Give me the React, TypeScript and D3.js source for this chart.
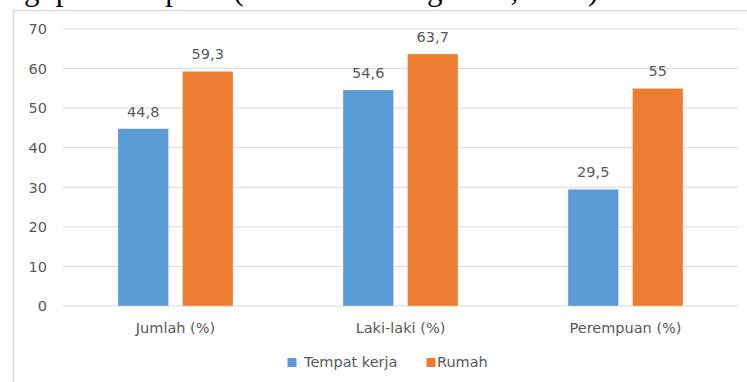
import React from "react";
import * as d3 from "d3";

const categories = ["Jumlah (%)", "Laki-laki (%)", "Perempuan (%)"];
const seriesNames = ["Tempat kerja", "Rumah"];
const tempatKerja = [44.8, 54.6, 29.5];
const rumah = [59.3, 63.7, 55];
const yTicks = [0, 10, 20, 30, 40, 50, 60, 70];
const titleFragment = "gi perokok pasif (Kemenkes dengan RI, 2013)";

const colors = ["#5B9BD5", "#ED7D31"];
const W = 747;
const H = 382;
const FONT = "'DejaVu Sans', sans-serif";
const TXT = "#595959";

export default function App() {
  const x0 = d3.scaleBand<string>().domain(categories).range([63, 738]).padding(0);
  const x1 = d3
    .scaleBand<string>()
    .domain(seriesNames)
    .range([0, x0.bandwidth()])
    .paddingInner(0.217)
    .paddingOuter(0.853);
  const y = d3.scaleLinear().domain([0, 70]).range([306, 29]);
  const seriesValues = [tempatKerja, rumah];
  const fmt = (v: number) => String(v).replace(".", ",");

  return (
    <svg
      width={W}
      height={H}
      style={{ position: "absolute", left: 0, top: 0, background: "#fff" }}
      fontFamily={FONT}
    >
      <rect x={0} y={0} width={W} height={H} fill="#fff" />
      <text
        x={24}
        y={0}
        fontFamily="'Liberation Serif', 'Times New Roman', serif"
        fontSize={31}
        fill="#000"
      >
        {titleFragment}
      </text>
      <rect x={0} y={9.5} width={W} height={H} fill="#fff" />
      {/* chart frame */}
      <path d={`M13.5,${H} V10.5 H${W}`} fill="none" stroke="#D9D9D9" strokeWidth={1.5} />
      {/* gridlines */}
      {yTicks.map((t) => (
        <g key={t}>
          <line x1={63} x2={738} y1={y(t)} y2={y(t)} stroke="#D9D9D9" strokeWidth={1} />
          <text x={47} y={y(t)} dy="0.36em" textAnchor="end" fontSize={14.5} fill={TXT}>
            {t}
          </text>
        </g>
      ))}
      {/* bars */}
      {categories.map((c, ci) => (
        <g key={c} transform={`translate(${x0(c)},0)`}>
          {seriesNames.map((s, si) => {
            const v = seriesValues[si][ci];
            const bx = x1(s)!;
            const bw = x1.bandwidth();
            return (
              <g key={s}>
                <rect
                  x={bx}
                  y={y(v)}
                  width={bw}
                  height={y(0) - y(v)}
                  fill={colors[si]}
                  stroke="#fff"
                  strokeOpacity={0.4}
                  strokeWidth={0.75}
                />
                <text
                  x={bx + bw / 2}
                  y={y(v) - 12}
                  textAnchor="middle"
                  fontSize={14.5}
                  fill={TXT}
                >
                  {fmt(v)}
                </text>
              </g>
            );
          })}
          <text
            x={x0.bandwidth() / 2}
            y={333}
            textAnchor="middle"
            fontSize={14.5}
            fill={TXT}
          >
            {c}
          </text>
        </g>
      ))}
      {/* legend */}
      <g>
        <rect x={287.5} y={358} width={9} height={9} fill={colors[0]} />
        <text x={304} y={367} fontSize={14.5} fill={TXT}>
          {seriesNames[0]}
        </text>
        <rect x={426.5} y={358} width={9} height={9} fill={colors[1]} />
        <text x={437} y={367} fontSize={14.5} fill={TXT}>
          {seriesNames[1]}
        </text>
      </g>
    </svg>
  );
}
